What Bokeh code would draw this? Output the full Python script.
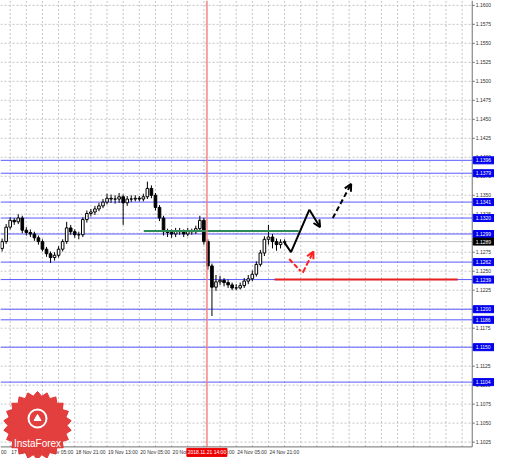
import numpy as np
from bokeh.plotting import figure
from bokeh.models import Range1d, Arrow, OpenHead
from bokeh.core.properties import value
from bokeh.embed import file_html
from bokeh.resources import INLINE

# ---- data (2-hour bars, x in hours from 17 Nov 13:00) ----
bar_hours = list(range(-4, 138, 2))
opens = [1.1280, 1.1289, 1.1308, 1.1317, 1.1315, 1.1320, 1.1304, 1.1301, 1.1299, 1.1294,
         1.1289, 1.1279, 1.1273, 1.1268, 1.1271, 1.1279, 1.1289, 1.1307, 1.1302, 1.1298,
         1.1298, 1.1318, 1.1326, 1.1328, 1.1332, 1.1336, 1.1341, 1.1346, 1.1345, 1.1345,
         1.1348, 1.1340, 1.1345, 1.1345, 1.1346, 1.1345, 1.1348, 1.1359, 1.1350, 1.1334,
         1.1320, 1.1302, 1.1301, 1.1299, 1.1303, 1.1302, 1.1299, 1.1303, 1.1302, 1.1306,
         1.1317, 1.1289, 1.1257, 1.1229, 1.1236, 1.1238, 1.1235, 1.1232, 1.1228, 1.1228,
         1.1231, 1.1237, 1.1240, 1.1246, 1.1259, 1.1274, 1.1292, 1.1295, 1.1289, 1.1285,
         1.1288]
closes = [1.1289, 1.1308, 1.1317, 1.1315, 1.1320, 1.1304, 1.1301, 1.1299, 1.1294, 1.1289,
          1.1279, 1.1273, 1.1268, 1.1271, 1.1279, 1.1289, 1.1307, 1.1302, 1.1298, 1.1298,
          1.1318, 1.1326, 1.1328, 1.1332, 1.1336, 1.1341, 1.1346, 1.1345, 1.1345, 1.1348,
          1.1340, 1.1345, 1.1345, 1.1346, 1.1345, 1.1348, 1.1359, 1.1350, 1.1334, 1.1320,
          1.1302, 1.1301, 1.1299, 1.1303, 1.1302, 1.1299, 1.1303, 1.1302, 1.1306, 1.1317,
          1.1289, 1.1257, 1.1229, 1.1236, 1.1238, 1.1235, 1.1232, 1.1228, 1.1228, 1.1231,
          1.1237, 1.1240, 1.1246, 1.1259, 1.1274, 1.1292, 1.1295, 1.1289, 1.1285, 1.1288,
          1.1289]
highs = [1.1293, 1.1312, 1.1321, 1.1320, 1.1325, 1.1323, 1.1308, 1.1305, 1.1302, 1.1297,
         1.1292, 1.1282, 1.1276, 1.1275, 1.1283, 1.1292, 1.1315, 1.1311, 1.1305, 1.1302,
         1.1321, 1.1330, 1.1332, 1.1336, 1.1340, 1.1345, 1.1352, 1.1351, 1.1350, 1.1353,
         1.1351, 1.1349, 1.1350, 1.1350, 1.1349, 1.1352, 1.1368, 1.1363, 1.1353, 1.1337,
         1.1323, 1.1306, 1.1305, 1.1307, 1.1307, 1.1305, 1.1307, 1.1306, 1.1310, 1.1323,
         1.1320, 1.1292, 1.1260, 1.1245, 1.1244, 1.1241, 1.1239, 1.1235, 1.1233, 1.1235,
         1.1241, 1.1245, 1.1251, 1.1263, 1.1278, 1.1296, 1.1311, 1.1299, 1.1293, 1.1292,
         1.1292]
lows = [1.1276, 1.1286, 1.1305, 1.1311, 1.1312, 1.1300, 1.1297, 1.1295, 1.1290, 1.1285,
        1.1276, 1.1269, 1.1261, 1.1264, 1.1268, 1.1276, 1.1286, 1.1298, 1.1294, 1.1292,
        1.1295, 1.1314, 1.1322, 1.1324, 1.1329, 1.1333, 1.1338, 1.1340, 1.1339, 1.1340,
        1.1311, 1.1336, 1.1341, 1.1342, 1.1342, 1.1342, 1.1345, 1.1346, 1.1330, 1.1316,
        1.1297, 1.1295, 1.1294, 1.1295, 1.1298, 1.1295, 1.1296, 1.1298, 1.1299, 1.1303,
        1.1285, 1.1252, 1.1191, 1.1224, 1.1232, 1.1230, 1.1228, 1.1225, 1.1225, 1.1226,
        1.1228, 1.1233, 1.1237, 1.1243, 1.1256, 1.1270, 1.1285, 1.1280, 1.1277, 1.1280,
        1.1285]

level_prices = [1.1396, 1.1379, 1.1341, 1.1320, 1.1299, 1.1262, 1.1239, 1.1200, 1.1186, 1.1150, 1.1104]
current_price = 1.1289
green_level = 1.1303
green_hours = [66.2, 143.0]
red_level = 1.1239
red_hours = [131.0, 221.8]
marker_hour = 97.5
marker_text = "2018.11.21 14:00"

black_path_x = [135.9, 139.2, 148.3, 153.6]
black_path_y = [1.1288, 1.1275, 1.1331, 1.1308]
black_dash_x = [159.9, 169.0]
black_dash_y = [1.1320, 1.1365]
red_path_x = [138.3, 144.0, 145.0, 150.3]
red_path_y = [1.1266, 1.1250, 1.1248, 1.1276]

y_ticks = [1.1025, 1.1050, 1.1075, 1.1100, 1.1125, 1.1150, 1.1175, 1.1200, 1.1225, 1.1250,
           1.1275, 1.1300, 1.1325, 1.1350, 1.1375, 1.1400, 1.1425, 1.1450, 1.1475, 1.1500,
           1.1525, 1.1550, 1.1575, 1.1600]
x_label_hours = [0, 16, 32, 48, 64, 80, 96, 112, 128]
x_labels = ["17 Nov 13:00", "18 Nov 05:00", "18 Nov 21:00", "19 Nov 13:00", "20 Nov 05:00",
            "20 Nov 21:00", "21 Nov 13:00", "24 Nov 05:00", "24 Nov 21:00"]
edge_label = "00"   # visible tail of the previous time label at the left edge
x_grid_hours = list(range(-16, 240, 8))

# ---- layout ----
X0, X1 = -4.8, 229.0          # chart area in hours
Y0, Y1 = 1.10187, 1.16064     # chart area in price
W, H = 494, 458
PR = 487 * W / 510            # chart right edge (px)
PB = 462 * H / 474            # chart bottom edge (px)
hx = (X1 - X0) / PR           # hours per px
py = (Y1 - Y0) / PB           # price per px

p = figure(width=W, height=H,
           x_range=Range1d(X0, X0 + W * hx), y_range=Range1d(Y1 - H * py, Y1),
           output_backend="svg", toolbar_location=None,
           min_border_left=0, min_border_top=0, min_border_right=0, min_border_bottom=0)
p.axis.visible = False
p.grid.visible = False
p.outline_line_color = None
p.background_fill_color = "white"
p.border_fill_color = "white"

F = value("Liberation Sans")

# grid
gx = [h for h in x_grid_hours if X0 < h < X1]
p.segment(x0=gx, y0=[Y0] * len(gx), x1=gx, y1=[Y1] * len(gx),
          line_color="#c4c4c4", line_width=1, line_dash="2 2")
p.segment(x0=[X0] * len(y_ticks), y0=y_ticks, x1=[X1] * len(y_ticks), y1=y_ticks,
          line_color="#c4c4c4", line_width=1, line_dash="2 2")

# horizontal levels
p.segment(x0=[X0], y0=[current_price], x1=[X1], y1=[current_price], line_color="#c0c0c0", line_width=1)
p.segment(x0=[X0] * len(level_prices), y0=level_prices, x1=[X1] * len(level_prices), y1=level_prices,
          line_color="#5a5aff", line_width=1)

# candles
inc = [c >= o for o, c in zip(opens, closes)]
p.segment(x0=bar_hours, y0=lows, x1=bar_hours, y1=highs, line_color="black", line_width=1)
sel = lambda flag: [i for i, u in enumerate(inc) if u == flag]
up, dn = sel(True), sel(False)
p.vbar(x=[bar_hours[i] for i in up], width=1.3,
       top=[max(opens[i], closes[i]) for i in up], bottom=[min(opens[i], closes[i]) for i in up],
       fill_color="white", line_color="black", line_width=1)
p.vbar(x=[bar_hours[i] for i in dn], width=1.3,
       top=[max(opens[i], closes[i]) for i in dn], bottom=[min(opens[i], closes[i]) for i in dn],
       fill_color="black", line_color="black", line_width=1)

# green and red horizontal segments
p.line(x=green_hours, y=[green_level, green_level], line_color="#2e8b57", line_width=2)
p.line(x=red_hours, y=[red_level, red_level], line_color="#e82020", line_width=2)

# vertical marker line
p.segment(x0=[marker_hour], y0=[Y0], x1=[marker_hour], y1=[Y1], line_color="#f08080",
          line_width=2, line_alpha=0.75)

# forecast arrows
p.line(x=black_path_x[:3], y=black_path_y[:3], line_color="black", line_width=2)
p.add_layout(Arrow(x_start=black_path_x[2], y_start=black_path_y[2], x_end=black_path_x[3], y_end=black_path_y[3],
                   line_color="black", line_width=2,
                   end=OpenHead(size=7, line_color="black", line_width=2)))
p.add_layout(Arrow(x_start=black_dash_x[0], y_start=black_dash_y[0], x_end=black_dash_x[1], y_end=black_dash_y[1],
                   line_color="black", line_width=2, line_dash="5 3",
                   end=OpenHead(size=7, line_color="black", line_width=2)))
p.line(x=red_path_x[:2], y=red_path_y[:2], line_color="#ff2020", line_width=2, line_dash="5 2")
p.add_layout(Arrow(x_start=red_path_x[2], y_start=red_path_y[2], x_end=red_path_x[3], y_end=red_path_y[3],
                   line_color="#ff2020", line_width=2, line_dash="6 2",
                   end=OpenHead(size=7, line_color="#ff2020", line_width=2)))

# frame (right and bottom)
p.segment(x0=[X1, X0], y0=[Y0, Y0], x1=[X1, X1], y1=[Y1, Y0], line_color="#707070", line_width=1)

# right price scale
p.segment(x0=[X1] * len(y_ticks), y0=y_ticks, x1=[X1 + 2.5 * hx] * len(y_ticks), y1=y_ticks,
          line_color="#707070", line_width=1)
p.text(x=[X1 + 3.5 * hx] * len(y_ticks), y=y_ticks, text=[f"{t:.4f}" for t in y_ticks],
       text_align="left", text_baseline="middle", text_font=F, text_font_size="5px", text_color="#303030")
box_c = X1 + 11.5 * hx
p.rect(x=[box_c] * len(level_prices), y=level_prices, width=21, height=7,
       width_units="screen", height_units="screen", fill_color="#0000ee", line_color="#0000ee")
p.text(x=[X1 + 3.5 * hx] * len(level_prices), y=level_prices, text=[f"{t:.4f}" for t in level_prices],
       text_align="left", text_baseline="middle", text_font=F, text_font_size="5px", text_color="white")
p.rect(x=[box_c], y=[current_price], width=21, height=7, width_units="screen", height_units="screen",
       fill_color="black", line_color="black")
p.text(x=[X1 + 3.5 * hx], y=[current_price], text=[f"{current_price:.4f}"], text_align="left",
       text_baseline="middle", text_font=F, text_font_size="5px", text_color="white")

# bottom time scale
ty = Y0 - 5.5 * py
p.text(x=[h + 1 * hx for h in x_label_hours], y=[ty] * len(x_labels), text=x_labels,
       text_align="left", text_baseline="middle", text_font=F, text_font_size="5px", text_color="#303030")
p.text(x=[X0 + 0.5 * hx], y=[ty], text=[edge_label], text_align="left", text_baseline="middle",
       text_font=F, text_font_size="5px", text_color="#303030")
p.rect(x=[marker_hour], y=[ty], width=40, height=8, width_units="screen", height_units="screen",
       fill_color="#ee0000", line_color="#ee0000")
p.text(x=[marker_hour], y=[ty], text=[marker_text], text_align="center", text_baseline="middle",
       text_font=F, text_font_size="5px", text_color="white")

# InstaForex logo (decorative seal)
cx, cy = X0 + 37 * hx, Y1 - 425 * py
n = 44
ang = np.linspace(0, 2 * np.pi, n + 1)[:-1] + np.pi / 2
rad = np.where(np.arange(n) % 2 == 0, 34.0, 29.5)
p.patch(x=cx + rad * np.cos(ang) * hx, y=cy + rad * np.sin(ang) * py,
        fill_color="#e23535", line_color="#e23535", fill_alpha=0.95)
p.scatter(x=[cx], y=[cy + 7 * py], size=18, marker="circle", fill_color=None, line_color="white", line_width=2)
p.scatter(x=[cx], y=[cy + 7 * py], size=7, marker="triangle", fill_color="white", line_color="white")
p.text(x=[cx], y=[cy - 18 * py], text=["InstaForex"], text_align="center", text_baseline="middle",
       text_color="white", text_font_size="10px", text_font=F)

open("out.html", "w").write(file_html(p, INLINE))
